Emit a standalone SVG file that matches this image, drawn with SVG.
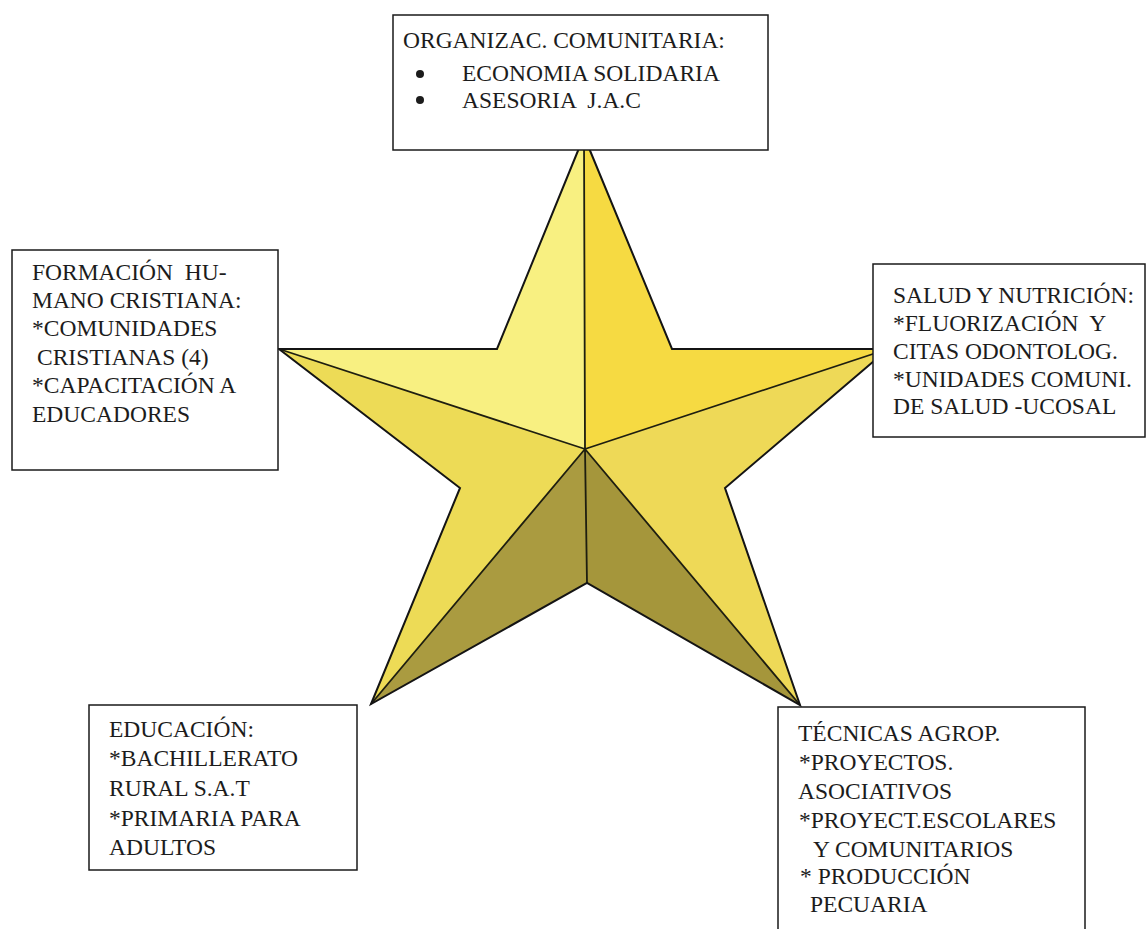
<svg xmlns="http://www.w3.org/2000/svg" width="1148" height="929" viewBox="0 0 1148 929">
<style>
.box{fill:#ffffff;stroke:#1a1a1a;stroke-width:1.5}
.t{font-family:"Liberation Serif","Times New Roman",serif;font-size:23.5px;fill:#1c1c1c}
.edge{fill:none;stroke:#141414;stroke-width:2;stroke-linejoin:miter}
.inner{fill:none;stroke:#1e1e10;stroke-width:1.8}
</style>
<rect width="1148" height="929" fill="#ffffff"/>
<g id="star">
<polygon points="584,136 497,349 279,349 585,449" fill="#f8f081"/>
<polygon points="584,136 672,349 888,349 585,449" fill="#f6da42"/>
<polygon points="279,349 585,449 371,704 460,488" fill="#eddb56"/>
<polygon points="888,349 585,449 800,705 725,488" fill="#eed957"/>
<polygon points="585,449 371,704 587,583" fill="#aa9b40"/>
<polygon points="585,449 800,705 587,583" fill="#a5963b"/>
<path class="inner" d="M584,136 L585,449 M279,349 L585,449 M888,349 L585,449 M585,449 L371,704 M585,449 L800,705 M585,449 L587,583"/>
<polygon class="edge" points="584,136 672,349 888,349 725,488 800,705 587,583 371,704 460,488 279,349 497,349"/>
</g>
<g id="organizacion">
<rect class="box" x="393" y="15" width="375" height="135"/>
<text class="t" x="403" y="48">ORGANIZAC. COMUNITARIA:</text>
<circle cx="420" cy="74" r="4" fill="#1c1c1c"/>
<circle cx="420" cy="100" r="4" fill="#1c1c1c"/>
<text class="t" x="462" y="81">ECONOMIA SOLIDARIA</text>
<text class="t" x="462" y="108" xml:space="preserve">ASESORIA  J.A.C</text>
</g>
<g id="formacion">
<rect class="box" x="12" y="250" width="266" height="220"/>
<text class="t" x="32" y="280" xml:space="preserve">FORMACIÓN  HU-</text>
<text class="t" x="32" y="308">MANO CRISTIANA:</text>
<text class="t" x="32" y="336">*COMUNIDADES</text>
<text class="t" x="37" y="365">CRISTIANAS (4)</text>
<text class="t" x="32" y="393">*CAPACITACIÓN A</text>
<text class="t" x="32" y="422">EDUCADORES</text>
</g>
<g id="salud">
<rect class="box" x="873" y="264" width="272" height="173"/>
<text class="t" x="893" y="303">SALUD Y NUTRICIÓN:</text>
<text class="t" x="893" y="331" xml:space="preserve">*FLUORIZACIÓN  Y</text>
<text class="t" x="893" y="359">CITAS ODONTOLOG.</text>
<text class="t" x="893" y="387">*UNIDADES COMUNI.</text>
<text class="t" x="893" y="414">DE SALUD -UCOSAL</text>
</g>
<g id="educacion">
<rect class="box" x="89" y="705" width="268" height="165"/>
<text class="t" x="109" y="737">EDUCACIÓN:</text>
<text class="t" x="109" y="766">*BACHILLERATO</text>
<text class="t" x="109" y="796">RURAL S.A.T</text>
<text class="t" x="109" y="826">*PRIMARIA PARA</text>
<text class="t" x="109" y="855">ADULTOS</text>
</g>
<g id="tecnicas">
<rect class="box" x="778" y="707" width="307" height="240"/>
<text class="t" x="798" y="741">TÉCNICAS AGROP.</text>
<text class="t" x="799" y="770">*PROYECTOS.</text>
<text class="t" x="798" y="799">ASOCIATIVOS</text>
<text class="t" x="799" y="828">*PROYECT.ESCOLARES</text>
<text class="t" x="813" y="857">Y COMUNITARIOS</text>
<text class="t" x="800" y="884" xml:space="preserve">* PRODUCCIÓN</text>
<text class="t" x="810" y="912">PECUARIA</text>
</g>
</svg>
